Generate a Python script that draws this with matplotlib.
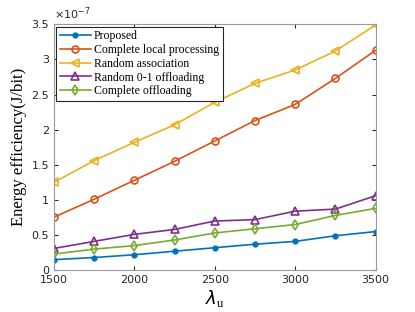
import matplotlib
matplotlib.use("Agg")
import matplotlib.pyplot as plt

# user density lambda_u
lam = [1500, 1750, 2000, 2250, 2500, 2750, 3000, 3250, 3500]

# energy efficiency, in units of 1e-7 J/bit
proposed = [0.15, 0.18, 0.22, 0.27, 0.32, 0.37, 0.41, 0.49, 0.55]
local = [0.755, 1.01, 1.28, 1.55, 1.84, 2.13, 2.36, 2.73, 3.13]
rand_assoc = [1.25, 1.56, 1.82, 2.07, 2.39, 2.66, 2.85, 3.12, 3.49]
rand_01 = [0.31, 0.41, 0.51, 0.58, 0.70, 0.72, 0.84, 0.87, 1.06]
full_off = [0.23, 0.30, 0.35, 0.43, 0.53, 0.59, 0.65, 0.78, 0.88]

fig = plt.figure(figsize=(4.15, 3.12), dpi=100)
ax = fig.add_axes([0.130, 0.134, 0.775, 0.788])

ax.plot(lam, proposed, '-o', color='#0072BD', ms=3.5, mfc='#0072BD', lw=1.2, label='Proposed')
ax.plot(lam, local, '-o', color='#D95319', ms=5, mfc='none', mew=1.2, lw=1.2, label='Complete local processing')
ax.plot(lam, rand_assoc, '-<', color='#EDB120', ms=6, mfc='none', mew=1.2, lw=1.2, label='Random association')
ax.plot(lam, rand_01, '-^', color='#7E2F8E', ms=5.5, mfc='none', mew=1.2, lw=1.2, label='Random 0-1 offloading')
ax.plot(lam, full_off, '-d', color='#77AC30', ms=5, mfc='none', mew=1.2, lw=1.2, label='Complete offloading')

ax.set_xlim(1500, 3500)
ax.set_ylim(0, 3.5)
ax.set_xticks([1500, 2000, 2500, 3000, 3500])
ax.set_yticks([0, 0.5, 1, 1.5, 2, 2.5, 3, 3.5])
ax.set_yticklabels(['0', '0.5', '1', '1.5', '2', '2.5', '3', '3.5'])
ax.tick_params(direction='in', top=True, right=True, labelsize=8, length=3,
               color='#262626', labelcolor='#262626')
for s in ax.spines.values():
    s.set_color('#9a9a9a')
    s.set_linewidth(0.8)

ax.text(0, 1.01, r'$\times10^{-7}$', transform=ax.transAxes, fontsize=8,
        color='#262626', ha='left', va='bottom')

ax.set_ylabel('Energy efficiency(J/bit)', family='Liberation Serif', fontsize=12, labelpad=3)
ax.set_xlabel(r'$\lambda_\mathregular{u}$', family='Liberation Serif', fontsize=13, labelpad=2)

leg = ax.legend(loc='upper left', prop={'family': 'Liberation Serif', 'size': 8.5},
                fancybox=False, framealpha=1, edgecolor='#262626', borderpad=0.3,
                labelspacing=0.15, handlelength=2.6, handletextpad=0.3, borderaxespad=0.2)
leg.get_frame().set_linewidth(0.8)

fig.savefig('out.png', dpi=100)
